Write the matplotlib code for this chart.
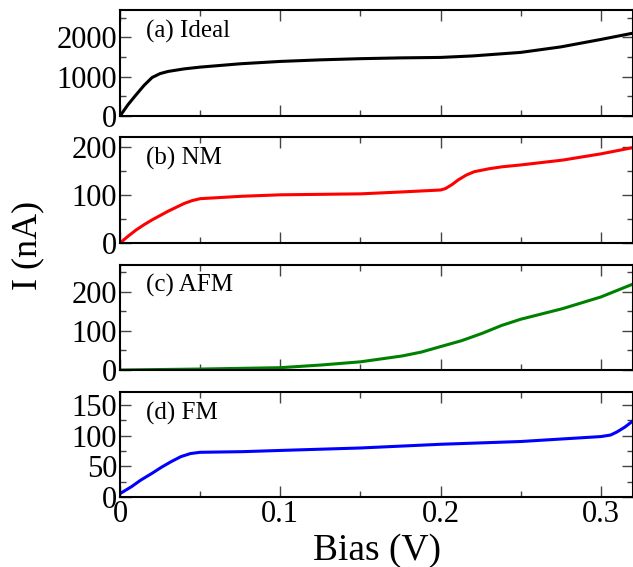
import matplotlib
matplotlib.use("Agg")
import matplotlib.pyplot as plt
from matplotlib.ticker import MultipleLocator

plt.rcParams["font.family"] = ["Liberation Serif", "DejaVu Serif"]

# (a) Ideal
bias_a = [0, 0.005, 0.01, 0.015, 0.02, 0.025, 0.03, 0.04, 0.05, 0.075, 0.1,
          0.125, 0.15, 0.175, 0.2, 0.22, 0.25, 0.275, 0.3, 0.32]
cur_a = [0, 290, 540, 780, 980, 1080, 1135, 1200, 1245, 1330, 1390,
         1430, 1460, 1480, 1492, 1530, 1620, 1760, 1950, 2110]

# (b) NM
bias_b = [0, 0.005, 0.01, 0.015, 0.02, 0.025, 0.03, 0.035, 0.04, 0.045, 0.05,
          0.076, 0.1, 0.15, 0.176, 0.2, 0.203, 0.207, 0.211, 0.216, 0.221,
          0.23, 0.238, 0.25, 0.276, 0.3, 0.32]
cur_b = [0, 14, 27, 38, 48, 57, 66, 74, 82, 88, 92,
         97, 100, 102, 106, 110, 113, 121, 131, 141, 148,
         154, 158, 162, 172, 185, 198]

# (c) AFM
bias_c = [0, 0.05, 0.1, 0.126, 0.15, 0.176, 0.188, 0.2, 0.213, 0.226,
          0.238, 0.25, 0.276, 0.3, 0.32]
cur_c = [0, 2.5, 6, 13, 21, 36, 46, 60, 75, 94,
         114, 130, 157, 187, 220]

# (d) FM
bias_d = [0, 0.007, 0.013, 0.02, 0.026, 0.032, 0.038, 0.044, 0.05, 0.076,
          0.1, 0.15, 0.2, 0.25, 0.3, 0.306, 0.31, 0.315, 0.32]
cur_d = [6, 17, 28, 39, 49, 58, 66, 71, 73, 74,
         76, 80, 86, 90.5, 98.5, 101, 106, 114, 124]

panels = [
    ("(a) Ideal", bias_a, cur_a, "black", 2700, 1000, 500),
    ("(b) NM", bias_b, cur_b, "#ff0000", 220, 100, 50),
    ("(c) AFM", bias_c, cur_c, "#008000", 270, 100, 50),
    ("(d) FM", bias_d, cur_d, "#0000ff", 170, 50, 25),
]

# axes boxes in figure fractions (left, bottom, width, height)
boxes = [
    (0.1896, 0.7954, 0.8104, 0.1870),
    (0.1896, 0.5714, 0.8104, 0.1870),
    (0.1896, 0.3474, 0.8104, 0.1861),
    (0.1896, 0.1229, 0.8104, 0.1849),
]

fig = plt.figure(figsize=(6.33, 5.67), dpi=100)

for i, ((label, xs, ys, color, ytop, ymaj, ymin), box) in enumerate(zip(panels, boxes)):
    ax = fig.add_axes(box)
    ax.plot(xs, ys, color=color, linewidth=2.2, solid_joinstyle="round")
    ax.set_xlim(0, 0.32)
    ax.set_ylim(0, ytop)
    ax.xaxis.set_major_locator(MultipleLocator(0.1))
    ax.xaxis.set_minor_locator(MultipleLocator(0.05))
    ax.yaxis.set_major_locator(MultipleLocator(ymaj))
    ax.yaxis.set_minor_locator(MultipleLocator(ymin))
    ax.tick_params(which="both", direction="in", top=True, right=True,
                   color="#444444", width=1.0)
    ax.tick_params(which="major", length=8, labelsize=22, pad=2)
    ax.tick_params(which="minor", length=4)
    for sp in ax.spines.values():
        sp.set_linewidth(1.5)
    if i < 3:
        ax.tick_params(labelbottom=False)
    else:
        ax.set_xticks([0, 0.1, 0.2, 0.3])
        ax.set_xticklabels(["0", "0.1", "0.2", "0.3"])
    ax.text(0.05, 0.80, label, transform=ax.transAxes, fontsize=18,
            ha="left", va="center")

fig.text(0.044, 0.568, "I (nA)", rotation=90, fontsize=26, ha="center", va="center")
fig.text(0.596, 0.028, "Bias (V)", fontsize=27, ha="center", va="center")

fig.savefig("out.png", dpi=100)
